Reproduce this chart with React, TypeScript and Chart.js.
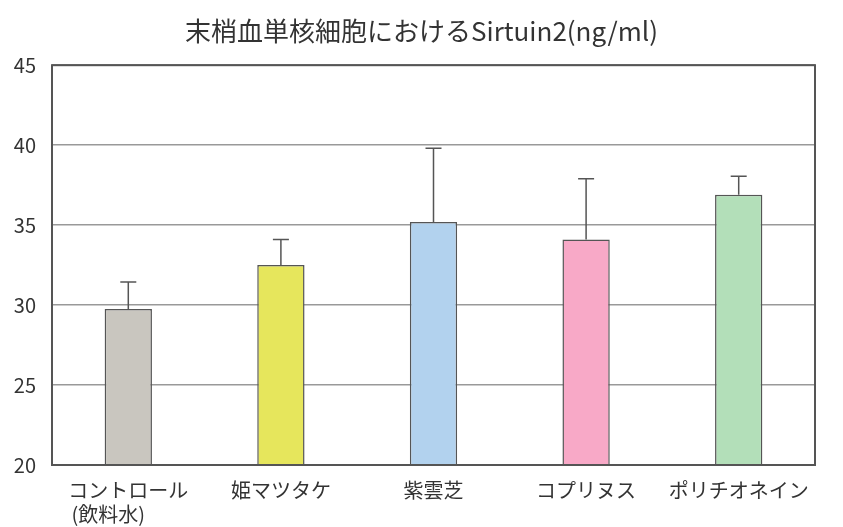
import React, { useEffect, useRef } from "react";
import { Chart, registerables } from "chart.js";

Chart.register(...registerables);

const categories: (string | string[])[] = [
  ["コントロール", "(飲料水)\u3000\u3000"],
  "姫マツタケ",
  "紫雲芝",
  "コプリヌス",
  "ポリチオネイン",
];
const means = [29.75, 32.5, 35.2, 34.1, 36.9];
const errors = [1.7, 1.6, 4.6, 3.8, 1.15];
const barColors = ["#c9c6bf", "#e6e65c", "#b2d2ee", "#f8a9c7", "#b3dfb9"];
const yTicks = [20, 25, 30, 35, 40, 45];
const titleText = "末梢血単核細胞におけるSirtuin2(ng/ml)";

const FONT = "'Noto Sans CJK JP', 'Noto Sans', sans-serif";

const errorBarPlugin = {
  id: "errorBars",
  afterDatasetsDraw(chart: any) {
    const ctx = chart.ctx;
    const meta = chart.getDatasetMeta(0);
    const yScale = chart.scales.y;
    ctx.save();
    ctx.strokeStyle = "#555";
    ctx.lineWidth = 1.5;
    meta.data.forEach((bar: any, i: number) => {
      const x = bar.x;
      const yBase = yScale.getPixelForValue(means[i]);
      const yTop = yScale.getPixelForValue(means[i] + errors[i]);
      ctx.beginPath();
      ctx.moveTo(x, yBase);
      ctx.lineTo(x, yTop);
      ctx.moveTo(x - 8, yTop);
      ctx.lineTo(x + 8, yTop);
      ctx.stroke();
    });
    ctx.restore();
  },
};

const framePlugin = {
  id: "frame",
  afterDraw(chart: any) {
    const { ctx, chartArea } = chart;
    ctx.save();
    ctx.strokeStyle = "#555";
    ctx.lineWidth = 2;
    ctx.strokeRect(
      chartArea.left,
      chartArea.top,
      chartArea.right - chartArea.left,
      chartArea.bottom - chartArea.top
    );
    ctx.restore();
  },
};

export default function App() {
  const ref = useRef<HTMLCanvasElement | null>(null);
  useEffect(() => {
    if (!ref.current) return;
    const chart = new Chart(ref.current, {
      type: "bar",
      data: {
        labels: categories,
        datasets: [
          {
            data: means,
            backgroundColor: barColors,
            borderColor: "#555",
            borderWidth: 1.5,
            categoryPercentage: 1,
            barPercentage: 0.31,
          },
        ],
      },
      options: {
        animation: false,
        responsive: false,
        layout: { padding: 0 },
        plugins: {
          legend: { display: false },
          tooltip: { enabled: false },
          title: {
            display: true,
            text: titleText,
            color: "#333",
            font: { family: FONT, size: 26, weight: "normal" },
            padding: { top: 16, bottom: 18 },
          },
        },
        scales: {
          x: {
            grid: { display: false, drawTicks: false },
            border: { display: false },
            ticks: {
              color: "#333",
              font: { family: FONT, size: 20 },
              padding: 13,
              maxRotation: 0,
              autoSkip: false,
            },
            afterFit: (s: any) => {
              s.height = 62;
            },
          },
          y: {
            min: 20,
            max: 45,
            afterBuildTicks: (s: any) => {
              s.ticks = yTicks.map((v) => ({ value: v }));
            },
            grid: { color: "#999", lineWidth: 1.5, drawTicks: false },
            border: { display: false },
            ticks: {
              color: "#333",
              font: { family: FONT, size: 20 },
              padding: 16,
            },
            afterFit: (s: any) => {
              s.width = 52;
            },
          },
          yRight: {
            position: "right",
            min: 20,
            max: 45,
            grid: { display: false, drawTicks: false },
            border: { display: false },
            ticks: { display: false },
            afterFit: (s: any) => {
              s.width = 28;
            },
          },
        },
      },
      plugins: [errorBarPlugin, framePlugin],
    });
    return () => chart.destroy();
  }, []);
  return (
    <div style={{ position: "fixed", left: 0, top: 0, width: 843, height: 527, background: "#fff" }}>
      <canvas ref={ref} width={843} height={527} />
    </div>
  );
}
